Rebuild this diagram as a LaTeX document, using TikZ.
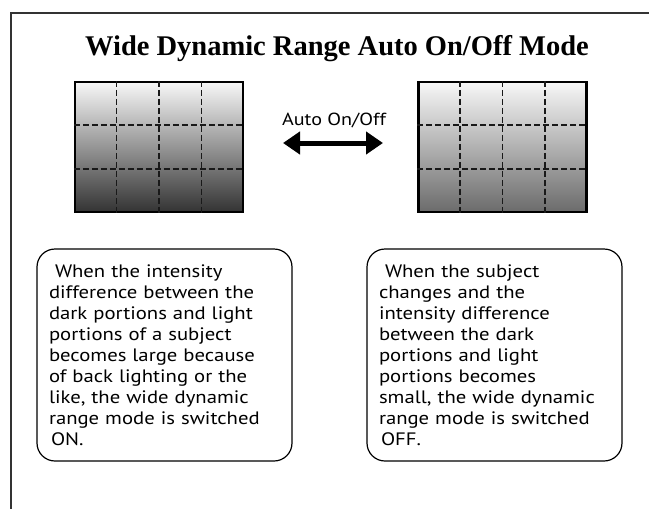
\documentclass[tikz,border=0pt]{standalone}
\usepackage{fontspec}
\setmainfont{Liberation Serif}
\setsansfont{PT Sans}[FakeStretch=1.15]
\usetikzlibrary{arrows.meta,calc}
\tikzset{
  pic frame/.style={line width=2pt, black!80},
  screen/.style={draw, line width=2.5pt, minimum width=168pt, minimum height=130pt, inner sep=0pt},
  gridline/.style={line width=1.3pt, dash pattern=on 6pt off 3pt, black!90},
  descbox/.style={draw, line width=1.2pt, rounded corners=18pt, minimum width=255pt, minimum height=212pt,
    text width=231pt, inner xsep=12pt, align=left, font=\sffamily\fontsize{18}{21}\selectfont}
}
\begin{document}
\begin{tikzpicture}[x=1pt,y=-1pt]
\useasboundingbox (0,0) rectangle (649,509);
\draw[pic frame] (11,509) -- (11,13) -- (649,13);
\node[font=\bfseries\fontsize{28.5}{30}\selectfont, anchor=base] (title) at (337,55) {Wide Dynamic Range Auto On/Off Mode};
% the two screens
\node[screen, top color=black!3, middle color=black!25, bottom color=black!80] (scrL) at (159,147) {};
\node[screen, top color=black!3, middle color=black!20, bottom color=black!58] (scrR) at (502.5,147) {};
\foreach \s in {scrL,scrR}{
  \foreach \f in {1,2,3}
    \draw[gridline] ($(\s.north west)!\f/4!(\s.north east)$) -- ($(\s.south west)!\f/4!(\s.south east)$);
  \foreach \f in {1,2}
    \draw[gridline] ($(\s.north west)!\f/3!(\s.south west)$) -- ($(\s.north east)!\f/3!(\s.south east)$);
}
\node[font=\sffamily\fontsize{17.5}{20}\selectfont, anchor=base] (auto) at (334,125) {Auto On/Off};
\coordinate (arrL) at (283,143);
\coordinate (arrR) at (383,143);
\draw[{Triangle[length=17pt,width=22pt]}-{Triangle[length=17pt,width=22pt]}, line width=5pt] (arrL) -- (arrR);
% descriptions
\node[descbox] (descL) at (164.5,355) {\hspace*{6pt}When the intensity\\ difference between the\\ dark portions and light\\ portions of a subject\\ becomes large because\\ of back lighting or the\\ like, the wide dynamic\\ range mode is switched\\ \hspace*{2pt}ON.};
\node[descbox] (descR) at (494.5,355) {\hspace*{6pt}When the subject\\ changes and the\\ intensity difference\\ between the dark\\ portions and light\\ portions becomes\\ small, the wide dynamic\\ range mode is switched\\ \hspace*{2pt}OFF.};
\end{tikzpicture}
\end{document}
